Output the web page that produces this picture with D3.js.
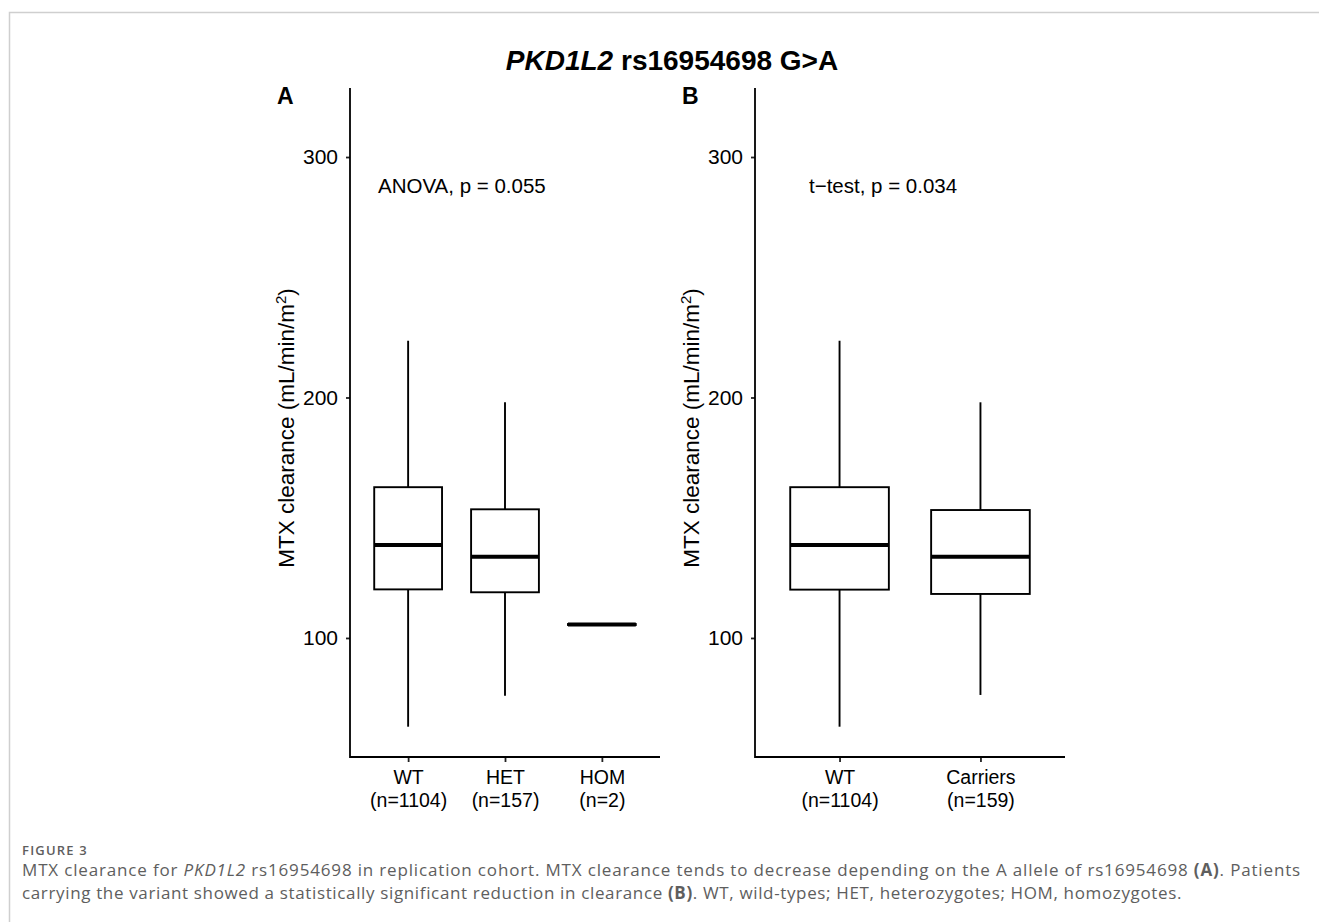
<!DOCTYPE html>
<html>
<head>
<meta charset="utf-8">
<script src="https://cdn.jsdelivr.net/npm/d3@7"></script>
<style>
  html, body { margin: 0; padding: 0; background: #fff; }
  svg text { font-family: "Liberation Sans", Arial, Helvetica, sans-serif; }
  .caption text { font-family: "Open Sans", "Noto Sans", sans-serif; }
</style>
</head>
<body>
<div id="chart"></div>
<script>
// MTX clearance by PKD1L2 rs16954698 genotype — two boxplot panels

// Panel A: genotype groups
const groupsA = ["WT", "HET", "HOM"];
const countsA = [1104, 157, 2];
const lowA  = [63.1, 76.0, 105.2];
const q1A   = [120.2, 119.0, 105.4];
const medA  = [138.7, 133.8, 105.6];
const q3A   = [162.7, 153.5, 105.8];
const highA = [223.6, 198.0, 106.0];

// Panel B: WT vs carriers
const groupsB = ["WT", "Carriers"];
const countsB = [1104, 159];
const lowB  = [63.1, 76.3];
const q1B   = [120.1, 118.3];
const medB  = [138.7, 133.8];
const q3B   = [162.7, 153.2];
const highB = [223.6, 198.0];

const yTicks = [100, 200, 300];
const yDomain = [50.5, 328.7];

const W = 1319, H = 922;

const svg = d3.select("#chart")
  .append("svg")
  .attr("width", W)
  .attr("height", H);

// page frame (journal figure border)
svg.append("path")
  .attr("d", `M9.5,${H} V12.5 H${W}`)
  .attr("fill", "none")
  .attr("stroke", "#cfcfcf")
  .attr("stroke-width", 1.5);

// figure title
const title = svg.append("text")
  .attr("x", 672)
  .attr("y", 70)
  .attr("text-anchor", "middle")
  .attr("font-size", 28)
  .attr("font-weight", "bold")
  .attr("fill", "#000");
title.append("tspan").attr("font-style", "italic").text("PKD1L2");
title.append("tspan").text(" rs16954698 G>A");

const panelTop = 88, panelBottom = 757;

const y = d3.scaleLinear().domain(yDomain).range([panelBottom, panelTop]);

function drawPanel(opts) {
  const { left, right, tag, groups, counts, low, q1, med, q3, high, note, noteX } = opts;

  const g = svg.append("g");

  const x = d3.scalePoint()
    .domain(groups)
    .range([left, right])
    .padding(0.6);
  const boxW = x.step() * 0.7;

  // y axis
  const yAxis = d3.axisLeft(y).tickValues(yTicks).tickSize(4).tickPadding(8);
  const ya = g.append("g").attr("transform", `translate(${left},0)`).call(yAxis);
  ya.select(".domain").remove();
  ya.selectAll(".tick line").attr("stroke", "#222").attr("stroke-width", 1.8);
  ya.selectAll(".tick text")
    .attr("font-size", 21)
    .attr("font-family", "Liberation Sans, Arial, sans-serif")
    .attr("fill", "#000");

  // x axis
  const xAxis = d3.axisBottom(x).tickSize(5).tickPadding(6).tickFormat(() => "");
  const xa = g.append("g").attr("transform", `translate(0,${panelBottom})`).call(xAxis);
  xa.select(".domain").remove();
  xa.selectAll(".tick line").attr("stroke", "#222").attr("stroke-width", 1.8);
  xa.selectAll(".tick").each(function(d, i) {
    const t = d3.select(this).append("text")
      .attr("fill", "#000")
      .attr("font-size", 19.5)
      .attr("font-family", "Liberation Sans, Arial, sans-serif")
      .attr("text-anchor", "middle");
    t.append("tspan").attr("x", 0).attr("y", 27).text(d);
    t.append("tspan").attr("x", 0).attr("y", 50).text(`(n=${counts[i]})`);
  });

  // axis lines (classic theme)
  g.append("path")
    .attr("d", `M${left},${panelTop} V${panelBottom} H${right}`)
    .attr("fill", "none")
    .attr("stroke", "#000")
    .attr("stroke-width", 1.8);

  // y title
  const yt = g.append("text")
    .attr("transform", `translate(${left - 56},428) rotate(-90)`)
    .attr("text-anchor", "middle")
    .attr("font-size", 22.5)
    .attr("fill", "#000");
  yt.append("tspan").text("MTX clearance (mL/min/m");
  yt.append("tspan").attr("font-size", 15).attr("dy", -8).text("2");
  yt.append("tspan").attr("dy", 8).text(")");

  // panel tag
  g.append("text")
    .attr("x", left - 73)
    .attr("y", 104)
    .attr("font-size", 23)
    .attr("font-weight", "bold")
    .text(tag);

  // test annotation
  g.append("text")
    .attr("x", noteX)
    .attr("y", 193)
    .attr("font-size", 20.5)
    .attr("fill", "#000")
    .text(note);

  const boxes = groups.map((k, i) => ({ k, lo: low[i], q1: q1[i], med: med[i], q3: q3[i], hi: high[i] }));

  const b = g.selectAll(".box").data(boxes).enter().append("g").attr("class", "box");

  // whiskers
  b.append("line")
    .attr("x1", d => x(d.k)).attr("x2", d => x(d.k))
    .attr("y1", d => y(d.hi)).attr("y2", d => y(d.q3))
    .attr("stroke", "#000").attr("stroke-width", 1.9);
  b.append("line")
    .attr("x1", d => x(d.k)).attr("x2", d => x(d.k))
    .attr("y1", d => y(d.q1)).attr("y2", d => y(d.lo))
    .attr("stroke", "#000").attr("stroke-width", 1.9);

  // box
  b.append("rect")
    .attr("x", d => x(d.k) - boxW / 2)
    .attr("width", boxW)
    .attr("y", d => y(d.q3))
    .attr("height", d => Math.max(0, y(d.q1) - y(d.q3)))
    .attr("fill", "#fff")
    .attr("stroke", "#000")
    .attr("stroke-width", 1.9);

  // median
  b.append("line")
    .attr("x1", d => x(d.k) - boxW / 2).attr("x2", d => x(d.k) + boxW / 2)
    .attr("y1", d => y(d.med)).attr("y2", d => y(d.med))
    .attr("stroke", "#000").attr("stroke-width", 4);
}

drawPanel({
  left: 350, right: 660, tag: "A",
  groups: groupsA, counts: countsA,
  low: lowA, q1: q1A, med: medA, q3: q3A, high: highA,
  note: "ANOVA, p = 0.055", noteX: 378
});

drawPanel({
  left: 755, right: 1065, tag: "B",
  groups: groupsB, counts: countsB,
  low: lowB, q1: q1B, med: medB, q3: q3B, high: highB,
  note: "t\u2212test, p = 0.034", noteX: 809
});

// caption
const capColor = "#5e5e5e";
const cap = svg.append("g").attr("class", "caption");
const figLabel = cap.append("text")
  .attr("x", 22).attr("y", 855)
  .attr("font-size", 13)
  .attr("font-weight", 600)
  .attr("fill", capColor)
  .text("FIGURE 3");

const l1 = cap.append("text")
  .attr("x", 22).attr("y", 876)
  .attr("font-size", 17)
  .attr("fill", capColor);
l1.append("tspan").text("MTX clearance for ");
l1.append("tspan").attr("font-style", "italic").text("PKD1L2");
l1.append("tspan").text(" rs16954698 in replication cohort. MTX clearance tends to decrease depending on the A allele of rs16954698 ");
l1.append("tspan").attr("font-weight", "bold").text("(A)");
l1.append("tspan").text(". Patients");

const l2 = cap.append("text")
  .attr("x", 22).attr("y", 899)
  .attr("font-size", 17)
  .attr("fill", capColor);
l2.append("tspan").text("carrying the variant showed a statistically significant reduction in clearance ");
l2.append("tspan").attr("font-weight", "bold").text("(B)");
l2.append("tspan").text(". WT, wild-types; HET, heterozygotes; HOM, homozygotes.");

// stretch caption lines to the widths seen in the figure
function fitWidth(sel, target) {
  const node = sel.node();
  const len = node.getComputedTextLength();
  const n = node.textContent.length;
  sel.attr("letter-spacing", ((target - len) / n).toFixed(3));
}
fitWidth(figLabel, 66);
fitWidth(l1, 1279);
fitWidth(l2, 1160);
</script>
</body>
</html>
